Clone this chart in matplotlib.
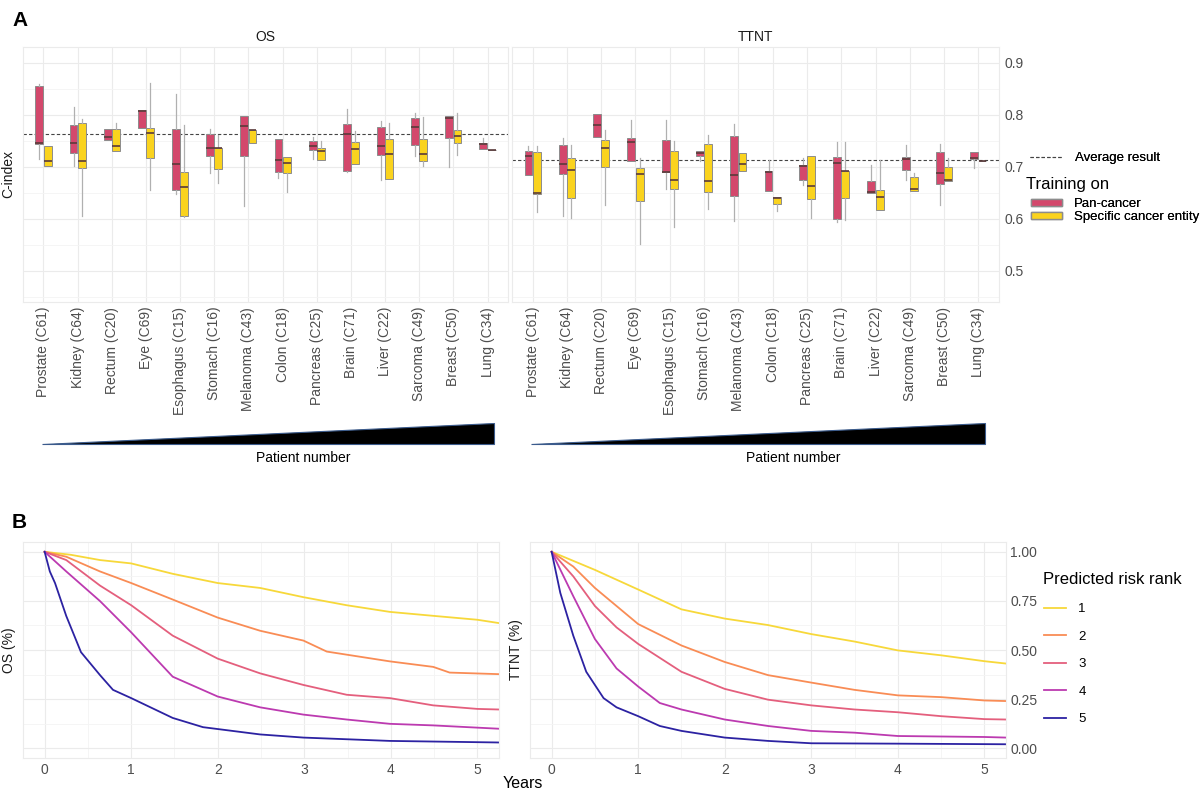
import numpy as np
import matplotlib.pyplot as plt
from matplotlib.lines import Line2D
from matplotlib.patches import Patch

plt.rcParams['font.family'] = ['Liberation Sans', 'DejaVu Sans']

# cancer entities, sorted by patient number
cancers = ["Prostate (C61)", "Kidney (C64)", "Rectum (C20)", "Eye (C69)", "Esophagus (C15)",
           "Stomach (C16)", "Melanoma (C43)", "Colon (C18)", "Pancreas (C25)", "Brain (C71)",
           "Liver (C22)", "Sarcoma (C49)", "Breast (C50)", "Lung (C34)"]

# box stats per entity: (whisker low, q1, median, q3, whisker high)
os_pan = [(0.715, 0.744, 0.746, 0.855, 0.859), (0.701, 0.726, 0.746, 0.781, 0.815),
          (0.751, 0.751, 0.758, 0.773, 0.773), (0.775, 0.775, 0.807, 0.808, 0.808),
          (0.648, 0.655, 0.705, 0.772, 0.840), (0.688, 0.721, 0.735, 0.762, 0.773),
          (0.624, 0.721, 0.779, 0.797, 0.797), (0.679, 0.689, 0.713, 0.753, 0.753),
          (0.714, 0.732, 0.740, 0.750, 0.758), (0.690, 0.692, 0.763, 0.782, 0.810),
          (0.674, 0.723, 0.739, 0.776, 0.788), (0.721, 0.741, 0.776, 0.794, 0.804),
          (0.700, 0.755, 0.793, 0.797, 0.797), (0.734, 0.734, 0.743, 0.745, 0.755)]
os_spec = [(0.701, 0.701, 0.711, 0.739, 0.739), (0.605, 0.697, 0.710, 0.784, 0.792),
           (0.730, 0.730, 0.740, 0.773, 0.784), (0.655, 0.717, 0.764, 0.775, 0.861),
           (0.603, 0.605, 0.661, 0.690, 0.781), (0.668, 0.695, 0.735, 0.735, 0.760),
           (0.746, 0.746, 0.770, 0.771, 0.771), (0.652, 0.688, 0.708, 0.719, 0.719),
           (0.713, 0.713, 0.731, 0.735, 0.750), (0.706, 0.706, 0.734, 0.748, 0.768),
           (0.676, 0.676, 0.724, 0.753, 0.784), (0.701, 0.710, 0.724, 0.754, 0.795),
           (0.723, 0.746, 0.759, 0.770, 0.803), (0.732, 0.732, 0.732, 0.732, 0.732)]
ttnt_pan = [(0.685, 0.685, 0.720, 0.730, 0.739), (0.605, 0.686, 0.706, 0.741, 0.755),
            (0.758, 0.758, 0.781, 0.801, 0.801), (0.710, 0.710, 0.748, 0.756, 0.790),
            (0.657, 0.690, 0.690, 0.752, 0.790), (0.710, 0.720, 0.726, 0.730, 0.730),
            (0.596, 0.644, 0.685, 0.759, 0.782), (0.653, 0.653, 0.690, 0.692, 0.712),
            (0.664, 0.675, 0.701, 0.703, 0.717), (0.593, 0.600, 0.707, 0.719, 0.748),
            (0.650, 0.650, 0.651, 0.672, 0.703), (0.674, 0.694, 0.715, 0.719, 0.741),
            (0.627, 0.666, 0.688, 0.728, 0.744), (0.697, 0.715, 0.717, 0.729, 0.729)]
ttnt_spec = [(0.613, 0.647, 0.650, 0.729, 0.739), (0.601, 0.639, 0.693, 0.716, 0.741),
             (0.626, 0.699, 0.735, 0.752, 0.770), (0.552, 0.634, 0.686, 0.697, 0.716),
             (0.584, 0.657, 0.675, 0.730, 0.750), (0.619, 0.652, 0.672, 0.744, 0.760),
             (0.692, 0.692, 0.705, 0.726, 0.726), (0.614, 0.629, 0.640, 0.641, 0.641),
             (0.601, 0.637, 0.663, 0.721, 0.721), (0.597, 0.640, 0.691, 0.692, 0.748),
             (0.616, 0.616, 0.641, 0.655, 0.712), (0.654, 0.654, 0.657, 0.681, 0.687),
             (0.672, 0.672, 0.674, 0.699, 0.717), (0.711, 0.711, 0.711, 0.711, 0.711)]
os_avg = 0.763
ttnt_avg = 0.712

# KM curves
os_years = {
    1: [0, 0.3, 0.64, 1.0, 1.48, 2.0, 2.49, 2.99, 3.49, 3.99, 4.49, 5.0, 5.25],
    2: [0, 0.25, 0.64, 1.0, 1.48, 2.0, 2.49, 2.99, 3.26, 3.99, 4.49, 4.68, 5.25],
    3: [0, 0.25, 0.64, 1.0, 1.48, 2.0, 2.49, 2.99, 3.49, 3.99, 4.49, 5.0, 5.25],
    4: [0, 0.25, 0.64, 1.0, 1.48, 2.0, 2.49, 2.99, 3.49, 3.99, 4.49, 5.25],
    5: [0, 0.06, 0.12, 0.25, 0.42, 0.64, 0.79, 1.0, 1.48, 1.83, 2.49, 2.99, 3.99, 5.25],
}
os_surv = {
    1: [1.0, 0.985, 0.958, 0.941, 0.888, 0.841, 0.816, 0.769, 0.728, 0.694, 0.674, 0.654, 0.637],
    2: [1.0, 0.975, 0.900, 0.841, 0.757, 0.665, 0.598, 0.548, 0.492, 0.442, 0.414, 0.385, 0.377],
    3: [1.0, 0.958, 0.828, 0.728, 0.573, 0.456, 0.381, 0.322, 0.272, 0.255, 0.218, 0.200, 0.197],
    4: [1.0, 0.900, 0.749, 0.590, 0.364, 0.263, 0.208, 0.171, 0.146, 0.124, 0.116, 0.099],
    5: [1.0, 0.90, 0.841, 0.673, 0.489, 0.372, 0.297, 0.255, 0.154, 0.107, 0.070, 0.054, 0.037, 0.029],
}
ttnt_years = {
    1: [0, 0.5, 1.0, 1.5, 2.0, 2.5, 3.0, 3.5, 4.0, 4.5, 5.0, 5.25],
    2: [0, 0.25, 0.5, 0.75, 1.0, 1.5, 2.0, 2.5, 3.0, 3.5, 4.0, 4.5, 5.0, 5.25],
    3: [0, 0.25, 0.5, 0.75, 1.0, 1.5, 2.0, 2.5, 3.0, 3.5, 4.0, 4.5, 5.0, 5.25],
    4: [0, 0.25, 0.5, 0.75, 1.0, 1.25, 1.5, 2.0, 2.5, 3.0, 3.5, 4.0, 5.0, 5.25],
    5: [0, 0.1, 0.25, 0.4, 0.6, 0.75, 1.0, 1.25, 1.5, 2.0, 2.5, 3.0, 4.0, 5.25],
}
ttnt_surv = {
    1: [1.0, 0.908, 0.808, 0.707, 0.660, 0.627, 0.581, 0.543, 0.498, 0.473, 0.443, 0.431],
    2: [1.0, 0.925, 0.816, 0.724, 0.632, 0.523, 0.439, 0.372, 0.334, 0.297, 0.269, 0.260, 0.243, 0.240],
    3: [1.0, 0.875, 0.724, 0.615, 0.531, 0.389, 0.302, 0.247, 0.218, 0.197, 0.183, 0.163, 0.148, 0.146],
    4: [1.0, 0.774, 0.556, 0.406, 0.314, 0.230, 0.197, 0.146, 0.113, 0.088, 0.079, 0.062, 0.057, 0.054],
    5: [1.0, 0.791, 0.573, 0.389, 0.255, 0.208, 0.163, 0.113, 0.088, 0.054, 0.037, 0.025, 0.023, 0.020],
}
rank_colors = {1: "#F7D83A", 2: "#F98C55", 3: "#E45F7D", 4: "#BC3AB0", 5: "#2C22A2"}

pan_col = "#D3486C"
spec_col = "#FAD31E"
grid_col = "#EBEBEB"
txt_col = "#4D4D4D"

W, H = 1204, 789
fig = plt.figure(figsize=(W / 100, H / 100), dpi=100)


def px_axes(l, r, t, b):
    return fig.add_axes([l / W, 1 - b / H, (r - l) / W, (b - t) / H])


def style(ax):
    ax.set_facecolor("white")
    for s in ax.spines.values():
        s.set_color(grid_col)
        s.set_linewidth(0.8)
    ax.tick_params(length=0, colors=txt_col, labelsize=10)
    ax.grid(True, color=grid_col, linewidth=0.8)
    ax.set_axisbelow(True)


def stats(data):
    return [dict(whislo=d[0], q1=d[1], med=d[2], q3=d[3], whishi=d[4]) for d in data]


def boxes(ax, data, pos, col):
    ax.bxp(stats(data), positions=pos, widths=0.23, showfliers=False, showcaps=False,
           patch_artist=True,
           boxprops=dict(facecolor=col, edgecolor="#8C8C8C", linewidth=0.7),
           medianprops=dict(color="#5A3A3A", linewidth=1.2),
           whiskerprops=dict(color="#B0B0B0", linewidth=0.9), manage_ticks=False)


x = np.arange(1, len(cancers) + 1)
panels = [("OS", os_pan, os_spec, os_avg, 23, 508),
          ("TTNT", ttnt_pan, ttnt_spec, ttnt_avg, 512, 999)]
for i, (name, pan, spec, avg, l, r) in enumerate(panels):
    ax = px_axes(l, r, 47, 302)
    style(ax)
    ax.set_ylim(0.44, 0.93)
    ax.set_xlim(0.4, 14.6)
    ax.set_yticks([0.5, 0.6, 0.7, 0.8, 0.9])
    ax.set_yticks(np.arange(0.45, 0.95, 0.1), minor=True)
    ax.grid(True, which="minor", axis="y", color="#F4F4F4", linewidth=0.6)
    ax.tick_params(which="minor", length=0)
    ax.axhline(avg, color="#444444", linestyle=(0, (3, 2)), linewidth=0.8, zorder=1)
    boxes(ax, pan, x - 0.12, pan_col)
    boxes(ax, spec, x + 0.12, spec_col)
    ax.set_xticks(x)
    ax.set_xticklabels(cancers, rotation=90, fontsize=10, color=txt_col)
    ax.set_title(name, fontsize=10, color="#1A1A1A", pad=4)
    if i == 0:
        ax.set_yticklabels([])
        ax.set_ylabel("C-index", fontsize=10, color="#1A1A1A")
        ax.yaxis.set_label_coords(-8 / (r - l), 0.5)
    else:
        ax.yaxis.tick_right()
        ax.set_yticklabels(["0.5", "0.6", "0.7", "0.8", "0.9"])
        ax.tick_params(axis="y", pad=4)

    # patient-number wedge under the panel
    wax = px_axes(l, r, 418, 448)
    wax.set_xlim(0.4, 14.6)
    wax.set_ylim(0, 1)
    wax.axis("off")
    wax.fill([x[0] - 0.05, x[-1] + 0.18, x[-1] + 0.18], [0.15, 0.15, 0.85], color="black",
             edgecolor="#3B5B8C", linewidth=0.8)
    fig.text(((l + r) / 2 + 38) / W, 1 - 458 / H, "Patient number", ha="center", va="center",
             fontsize=10)

# top legend
leg1 = fig.legend(handles=[Line2D([0], [0], color="#444444", linestyle=(0, (3, 2)), linewidth=0.8)],
                  labels=["Average result"], loc="center left", bbox_to_anchor=(1030 / W, 1 - 158 / H),
                  frameon=False, fontsize=9.5, handlelength=2.5, handletextpad=0.9,
                  borderpad=0, borderaxespad=0)
fig.add_artist(leg1)
fig.text(1026 / W, 1 - 184 / H, "Training on", fontsize=12, va="center", ha="left")
leg2 = fig.legend(handles=[Patch(facecolor=pan_col, edgecolor="#8C8C8C"),
                           Patch(facecolor=spec_col, edgecolor="#8C8C8C")],
                  labels=["Pan-cancer", "Specific cancer entity"],
                  loc="upper left", bbox_to_anchor=(1031 / W, 1 - 198 / H), frameon=False, fontsize=9.5,
                  handlelength=2.35, handleheight=0.5, labelspacing=0.1, handletextpad=0.9,
                  borderpad=0, borderaxespad=0)
fig.add_artist(leg2)

# KM panels
km = [("OS (%)", os_years, os_surv, 23, 499), ("TTNT (%)", ttnt_years, ttnt_surv, 530, 1006)]
km_lines = []
for i, (lab, yrs, surv, l, r) in enumerate(km):
    ax = px_axes(l, r, 542, 758)
    style(ax)
    ax.set_xlim(-0.25, 5.25)
    ax.set_ylim(-0.05, 1.05)
    ax.set_xticks([0, 1, 2, 3, 4, 5])
    ax.set_xticks(np.arange(0.5, 5.5, 1), minor=True)
    ax.set_yticks([0, 0.25, 0.5, 0.75, 1.0])
    ax.set_yticks([0.125, 0.375, 0.625, 0.875], minor=True)
    ax.grid(True, which="minor", color="#F4F4F4", linewidth=0.6)
    ax.tick_params(which="minor", length=0)
    km_lines = []
    for k in range(1, 6):
        ln, = ax.plot(yrs[k], surv[k], color=rank_colors[k], linewidth=1.3, label=str(k))
        km_lines.append(ln)
    ax.set_ylabel(lab, fontsize=10, color="#1A1A1A")
    ax.yaxis.set_label_coords(-7 / (r - l), 0.5)
    if i == 0:
        ax.set_yticklabels([])
    else:
        ax.yaxis.tick_right()
        ax.set_yticklabels(["0.00", "0.25", "0.50", "0.75", "1.00"])
        ax.tick_params(axis="y", pad=3)

fig.text(1043 / W, 1 - 579 / H, "Predicted risk rank", fontsize=12, va="center", ha="left")
fig.legend(handles=km_lines, labels=["1", "2", "3", "4", "5"], loc="upper left",
           bbox_to_anchor=(1044 / W, 1 - 603 / H), frameon=False, fontsize=9.5,
           handlelength=1.7, labelspacing=1.16, handletextpad=0.9, borderpad=0, borderaxespad=0)

fig.text(503 / W, 1 - 783 / H, "Years", ha="left", va="center", fontsize=11.5)
fig.text(12 / W, 1 - 20 / H, "A", fontsize=15, fontweight="bold", va="center")
fig.text(12 / W, 1 - 523 / H, "B", fontsize=15, fontweight="bold", va="center")

plt.savefig("out.png", dpi=100)
